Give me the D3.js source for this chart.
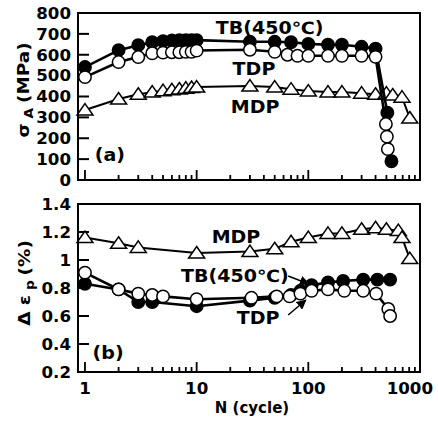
<!DOCTYPE html>
<html>
<head>
<meta charset="utf-8">
<script src="https://cdn.jsdelivr.net/npm/d3@7"></script>
<style>
body { margin: 0; background: #fff; }
text { font-family: "DejaVu Sans", sans-serif; font-weight: bold; fill: #000; }
</style>
</head>
<body>
<svg width="438" height="421"></svg>
<script>
// (a) stress amplitude, MPa
const nTbA = [1, 2, 3, 4, 5, 6, 7, 8, 9, 10, 30, 50, 70, 100, 150, 200, 300, 400, 510, 555];
const tbA = [541, 622, 646, 660, 665, 668, 670, 670, 670, 670, 662, 662, 660, 652, 648, 648, 638, 629, 322, 90];
const nTdpA = [1, 2, 3, 4, 5, 6, 7, 8, 9, 10, 30, 50, 65, 80, 100, 150, 200, 300, 400, 495, 505, 515];
const tdpA = [493, 565, 589, 607, 610, 612, 612, 614, 614, 620, 624, 614, 600, 595, 595, 595, 595, 595, 590, 268, 208, 148];
const nMdpA = [1, 2, 3, 4, 5, 6, 7, 8, 9, 10, 30, 50, 70, 100, 150, 200, 300, 400, 500, 570, 690, 810];
const mdpA = [335, 388, 411, 421, 428, 432, 436, 440, 443, 445, 450, 445, 435, 426, 421, 421, 416, 411, 416, 407, 397, 297];

// (b) plastic strain range, %
const nTbB = [1, 2, 3, 4, 10, 30, 50, 70, 85, 107, 150, 205, 310, 415, 540];
const tbB = [0.83, 0.79, 0.70, 0.70, 0.67, 0.71, 0.73, 0.75, 0.78, 0.82, 0.84, 0.85, 0.86, 0.86, 0.86];
const nTdpB = [1, 2, 3, 4, 5, 10, 31, 52, 68, 85, 107, 150, 210, 310, 405, 520, 540];
const tdpB = [0.91, 0.79, 0.76, 0.75, 0.74, 0.72, 0.73, 0.74, 0.74, 0.76, 0.78, 0.79, 0.78, 0.78, 0.76, 0.65, 0.60];
const nMdpB = [1, 2, 3, 10, 30, 50, 70, 100, 150, 200, 300, 400, 500, 640, 690, 810];
const mdpB = [1.16, 1.12, 1.09, 1.05, 1.06, 1.08, 1.13, 1.16, 1.19, 1.19, 1.22, 1.23, 1.22, 1.21, 1.16, 1.01];

const yTicksA = [0, 100, 200, 300, 400, 500, 600, 700, 800];
const yTicksB = [0.2, 0.4, 0.6, 0.8, 1, 1.2, 1.4];
const xLabels = [1, 10, 100, 1000];

// labels: [text, N, value]
const notesA = [["TB(450℃)", 45, 728], ["TDP", 32.6, 532], ["MDP", 33.4, 350], ["(a)", 1.67, 120]];
const notesB = [["MDP", 22.5, 1.164], ["TB(450℃)", 22, 0.886], ["TDP", 35.5, 0.586], ["(b)", 1.61, 0.336]];
// arrows: [fromN, fromV, toN, toV]
const arrowsB = [[66, 0.886, 101, 0.829], [66, 0.607, 95, 0.714]];

const svg = d3.select('svg');
const left = 78, right = 420;
const x = d3.scaleLog().domain([0.866, 1000]).range([left, right]);
const yA = d3.scaleLinear().domain([0, 800]).range([180, 13]);
const yB = d3.scaleLinear().domain([0.2, 1.4]).range([372, 204]);

// the original lettering is wide, so stretch it a little
function label(g, str, px, py, anchor, size, sx) {
  return g.append('text')
    .attr('transform', `translate(${px},${py}) scale(${sx || 1.15},1)`)
    .attr('text-anchor', anchor || 'middle')
    .attr('dy', '0.36em')
    .attr('font-size', size || 16)
    .text(str);
}

const defs = svg.append('defs');
defs.append('marker')
  .attr('id', 'head')
  .attr('viewBox', '0 0 10 10')
  .attr('refX', 9).attr('refY', 5)
  .attr('markerWidth', 10).attr('markerHeight', 10)
  .attr('markerUnits', 'userSpaceOnUse')
  .attr('orient', 'auto')
  .append('path').attr('d', 'M0,0L10,5L0,10Z').attr('fill', '#000');

function panel(y, yTicks, series, notes, arrows, showX) {
  const g = svg.append('g');
  const [y0, y1] = y.range();

  // y ticks, inward
  g.append('g').selectAll('line').data(yTicks).enter().append('line')
    .attr('x1', left).attr('x2', left + 11)
    .attr('y1', d => y(d)).attr('y2', d => y(d))
    .attr('stroke', '#000').attr('stroke-width', 2);
  yTicks.forEach(d => label(g, String(d), 71, y(d), 'end', 16, 1.04));

  // x ticks, inward
  const xt = x.ticks().filter(d => d >= 1 && d < 1000);
  g.append('g').selectAll('line').data(xt).enter().append('line')
    .attr('x1', d => x(d)).attr('x2', d => x(d))
    .attr('y1', y0).attr('y2', d => Math.abs(Math.log10(d) % 1) < 1e-9 ? y0 - 10 : y0 - 5)
    .attr('stroke', '#000').attr('stroke-width', 1.8);

  if (showX) {
    xLabels.forEach(d => {
      label(g, String(d), d === 1000 ? 433 : x(d), y0 + 16, d === 1000 ? 'end' : 'middle', 16, 1.04);
    });
  }

  const line = d3.line().x(d => x(d[0])).y(d => y(d[1]));
  series.forEach(s => {
    const pts = s.n.map((n, i) => [n, s.v[i]]);
    g.append('path')
      .attr('d', line(pts))
      .attr('fill', 'none')
      .attr('stroke', '#000')
      .attr('stroke-width', s.w);
    const m = g.append('g').selectAll('path').data(pts).enter().append('path')
      .attr('transform', d => `translate(${x(d[0])},${y(d[1])})`)
      .attr('stroke', '#000')
      .attr('stroke-width', 1.5)
      .attr('fill', s.fill);
    if (s.shape === 'circle') {
      m.attr('d', d3.symbol().type(d3.symbolCircle).size(Math.PI * 6.2 * 6.2));
    } else {
      m.attr('d', 'M0,-6.5L8,5L-8,5Z');
    }
  });

  arrows.forEach(a => {
    g.append('line')
      .attr('x1', x(a[0])).attr('y1', y(a[1]))
      .attr('x2', x(a[2])).attr('y2', y(a[3]))
      .attr('stroke', '#000').attr('stroke-width', 1.5)
      .attr('marker-end', 'url(#head)');
  });

  notes.forEach(nt => label(g, nt[0], x(nt[1]), y(nt[2]), 'middle', 17, 1.12));

  // frame
  g.append('rect')
    .attr('x', left).attr('y', y1)
    .attr('width', right - left).attr('height', y0 - y1)
    .attr('fill', 'none').attr('stroke', '#000').attr('stroke-width', 2);
  return g;
}

panel(yA, yTicksA, [
  {n: nMdpA, v: mdpA, shape: 'tri', fill: '#fff', w: 2},
  {n: nTbA, v: tbA, shape: 'circle', fill: '#000', w: 2.6},
  {n: nTdpA, v: tdpA, shape: 'circle', fill: '#fff', w: 2.6}
], notesA, [], false);

panel(yB, yTicksB, [
  {n: nMdpB, v: mdpB, shape: 'tri', fill: '#fff', w: 2},
  {n: nTbB, v: tbB, shape: 'circle', fill: '#000', w: 2.6},
  {n: nTdpB, v: tdpB, shape: 'circle', fill: '#fff', w: 2.6}
], notesB, arrowsB, true);

// axis titles
const ta = svg.append('text')
  .attr('transform', 'translate(29,90) rotate(-90) scale(1.15,1)')
  .attr('text-anchor', 'middle')
  .attr('font-size', 16);
ta.append('tspan').text('σ');
ta.append('tspan').attr('font-size', 12).attr('dy', 4).text(' A ');
ta.append('tspan').attr('dy', -4).text('(MPa)');

const tb = svg.append('text')
  .attr('transform', 'translate(30,283) rotate(-90) scale(1.15,1)')
  .attr('text-anchor', 'middle')
  .attr('font-size', 16);
tb.append('tspan').text('Δ ε');
tb.append('tspan').attr('font-size', 12).attr('dy', 4).text(' p ');
tb.append('tspan').attr('dy', -4).text('(%)');

label(svg, 'N (cycle)', 252, 408, 'middle', 15, 1.0);
</script>
</body>
</html>
